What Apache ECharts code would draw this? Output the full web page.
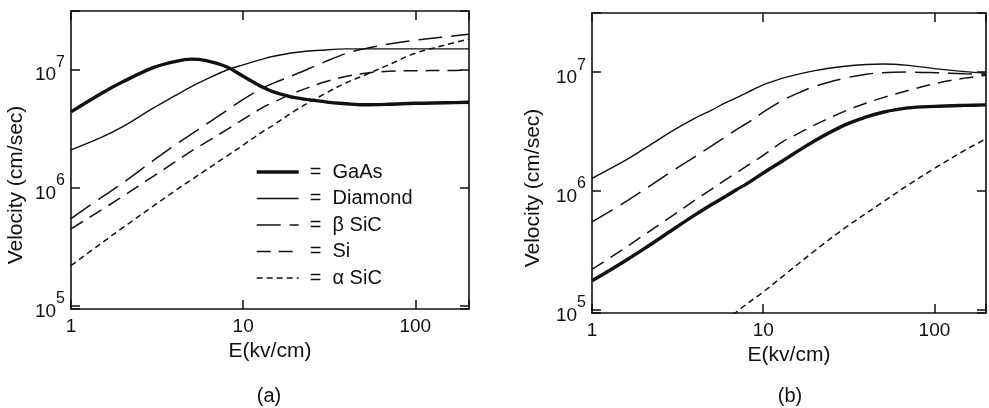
<!DOCTYPE html>
<html><head><meta charset="utf-8">
<script src="https://cdn.jsdelivr.net/npm/echarts@6/dist/echarts.min.js"></script>
<style>html,body{margin:0;padding:0;background:#fff}#c{width:989px;height:408px}</style>
</head><body><div id="c"></div>
<script>
// ---- data ----
const NAMES = ['GaAs', 'Diamond', 'β SiC', 'Si', 'α SiC'];
const X_TICKS = [1, 10, 100];
const Y_TICK_EXPONENTS = [5, 6, 7];

// Chart (a)
const E_A = [1, 1.5, 2, 3, 4, 5, 6, 8, 10, 13, 15, 20, 30, 40, 50, 70, 100, 150, 205];
const GAAS_A    = [4.4e6, 6.3e6, 7.9e6, 1.04e7, 1.17e7, 1.23e7, 1.2e7, 1.06e7, 8.8e6, 7.1e6, 6.5e6, 5.8e6, 5.35e6, 5.15e6, 5.05e6, 5.1e6, 5.2e6, 5.25e6, 5.3e6];
const DIAMOND_A = [2.1e6, 2.68e6, 3.3e6, 4.73e6, 6.0e6, 7.2e6, 8.2e6, 9.9e6, 1.1e7, 1.23e7, 1.3e7, 1.4e7, 1.47e7, 1.5e7, 1.5e7, 1.5e7, 1.5e7, 1.5e7, 1.5e7];
const BSIC_A    = [5.5e5, 8.3e5, 1.1e6, 1.7e6, 2.3e6, 2.85e6, 3.4e6, 4.5e6, 5.6e6, 7.0e6, 7.7e6, 9.1e6, 1.17e7, 1.38e7, 1.5e7, 1.65e7, 1.78e7, 1.9e7, 2.0e7];
const SI_A      = [4.5e5, 6.5e5, 8.5e5, 1.25e6, 1.65e6, 2.05e6, 2.4e6, 3.1e6, 3.8e6, 4.8e6, 5.3e6, 6.4e6, 7.9e6, 8.8e6, 9.3e6, 9.7e6, 9.8e6, 9.85e6, 9.9e6];
const ASIC_A    = [2.2e5, 3.4e5, 4.6e5, 7.0e5, 9.4e5, 1.17e6, 1.4e6, 1.85e6, 2.3e6, 3.0e6, 3.4e6, 4.5e6, 6.3e6, 7.8e6, 8.9e6, 1.1e7, 1.38e7, 1.62e7, 1.82e7];

// Chart (b)
const E_B = [1, 1.5, 2, 3, 4, 5, 6, 7, 8, 10, 13, 15, 20, 30, 40, 50, 70, 100, 150, 200];
const GAAS_B    = [1.76e5, 2.5e5, 3.25e5, 4.8e5, 6.3e5, 7.7e5, 9.0e5, 1.03e6, 1.15e6, 1.42e6, 1.8e6, 2.05e6, 2.65e6, 3.6e6, 4.2e6, 4.6e6, 5.0e6, 5.15e6, 5.25e6, 5.3e6];
const DIAMOND_B = [1.28e6, 1.75e6, 2.25e6, 3.25e6, 4.1e6, 4.8e6, 5.5e6, 6.1e6, 6.7e6, 7.8e6, 8.9e6, 9.4e6, 1.03e7, 1.12e7, 1.16e7, 1.17e7, 1.14e7, 1.07e7, 1.01e7, 9.8e6];
const BSIC_B    = [5.5e5, 7.8e5, 1.02e6, 1.5e6, 1.95e6, 2.4e6, 2.85e6, 3.3e6, 3.7e6, 4.6e6, 5.8e6, 6.4e6, 7.6e6, 8.9e6, 9.6e6, 9.9e6, 1.0e7, 9.9e6, 9.7e6, 9.6e6];
const SI_B      = [2.2e5, 3.2e5, 4.25e5, 6.3e5, 8.4e5, 1.04e6, 1.24e6, 1.43e6, 1.62e6, 2.0e6, 2.6e6, 2.9e6, 3.6e6, 4.7e6, 5.5e6, 6.1e6, 7.0e6, 8.0e6, 8.9e6, 9.4e6];
const E_ASIC_B  = [6, 7.4, 10, 13, 20, 30, 50, 70, 100, 150, 200];
const ASIC_B    = [8.0e4, 1.03e5, 1.42e5, 1.92e5, 3.15e5, 4.9e5, 8.1e5, 1.12e6, 1.55e6, 2.2e6, 2.75e6];

// ---- chart ----
const FONT = "'Liberation Sans', Arial, Helvetica, sans-serif";
const INK = '#111';
const pair = (xs, ys) => xs.map((x, i) => [x, ys[i]]);

const STYLES = {
  'GaAs':    { width: 3.4, type: 'solid' },
  'Diamond': { width: 1.4, type: 'solid' },
  'β SiC':   { width: 1.5, type: [24, 9] },
  'Si':      { width: 1.5, type: [14, 8] },
  'α SiC':   { width: 1.5, type: [6, 4] }
};

function xFmt(v) {
  return X_TICKS.some(t => Math.abs(t - v) / t < 1e-6) ? String(Math.round(v)) : '';
}
function yFmt(v) {
  const e = Math.log10(v), r = Math.round(e);
  if (Math.abs(e - r) > 1e-6 || Y_TICK_EXPONENTS.indexOf(r) < 0) return '';
  return '{b|10}{s|' + r + '}';
}
const lineAx = { show: true, onZero: false, lineStyle: { color: INK, width: 1.6 } };
const tickAx = { show: true, inside: true, length: 9, lineStyle: { color: INK, width: 1.5 } };

function xAxes(gi, xmax) {
  return [
    { type: 'log', logBase: 10, gridIndex: gi, position: 'bottom', min: 1, max: xmax,
      axisLine: lineAx, axisTick: tickAx, splitLine: { show: false }, minorTick: { show: false },
      axisLabel: { formatter: xFmt, fontSize: 19, color: INK, fontFamily: FONT, margin: 8 },
      name: 'E(kv/cm)', nameLocation: 'middle', nameGap: 31,
      nameTextStyle: { fontSize: 21, color: INK, fontFamily: FONT } },
    { type: 'log', logBase: 10, gridIndex: gi, position: 'top', min: 1, max: xmax,
      axisLine: lineAx, axisTick: tickAx, splitLine: { show: false }, axisLabel: { show: false } }
  ];
}
function yAxes(gi, gap) {
  return [
    { type: 'log', logBase: 10, gridIndex: gi, position: 'left', min: 94400, max: 3.14e7,
      axisLine: lineAx, axisTick: tickAx, splitLine: { show: false },
      axisLabel: { formatter: yFmt, color: INK, fontFamily: FONT, margin: 6,
        rich: { b: { fontSize: 19, fontFamily: FONT, color: INK, lineHeight: 30, verticalAlign: 'bottom' },
                s: { fontSize: 16, fontFamily: FONT, color: INK, lineHeight: 18, verticalAlign: 'top' } } },
      name: 'Velocity (cm/sec)', nameLocation: 'middle', nameGap: gap,
      nameTextStyle: { fontSize: 21, color: INK, fontFamily: FONT, padding: [0, 50, 0, 0] } },
    { type: 'log', logBase: 10, gridIndex: gi, position: 'right', min: 94400, max: 3.14e7,
      axisLine: lineAx, axisTick: tickAx, splitLine: { show: false }, axisLabel: { show: false } }
  ];
}

function mk(name, xs, ys, xi, yi) {
  const st = STYLES[name];
  return { name, type: 'line', xAxisIndex: xi, yAxisIndex: yi, data: pair(xs, ys),
    symbol: 'none', smooth: 0.35, clip: true,
    lineStyle: { color: INK, width: st.width, type: st.type }, itemStyle: { color: INK } };
}

const chart = echarts.init(document.getElementById('c'), null, { renderer: 'canvas' });
chart.setOption({
  animation: false,
  backgroundColor: '#fff',
  textStyle: { fontFamily: FONT },
  title: [
    { text: '(a)', left: 269, top: 386, textAlign: 'center', padding: 0,
      textStyle: { fontSize: 20, fontWeight: 'normal', color: INK, fontFamily: FONT } },
    { text: '(b)', left: 790, top: 386, textAlign: 'center', padding: 0,
      textStyle: { fontSize: 20, fontWeight: 'normal', color: INK, fontFamily: FONT } }
  ],
  legend: {
    data: NAMES.map(n => ({ name: n,
      lineStyle: { color: INK, width: STYLES[n].width, type: STYLES[n].type } })),
    orient: 'vertical', left: 255, top: 162, padding: 0,
    itemWidth: 42, itemHeight: 14, itemGap: 6.5, selectedMode: false,
    itemStyle: { opacity: 0, borderWidth: 0 },
    formatter: n => '=  ' + n,
    textStyle: { fontSize: 20, color: INK, fontFamily: FONT, padding: [0, 0, 0, 6] }
  },
  grid: [
    { left: 71, top: 11, width: 398, height: 298 },
    { left: 592, top: 13, width: 396, height: 300 }
  ],
  xAxis: [...xAxes(0, 205), ...xAxes(1, 200)],
  yAxis: [...yAxes(0, 44), ...yAxes(1, 48)],
  series: [
    mk('GaAs', E_A, GAAS_A, 0, 0),
    mk('Diamond', E_A, DIAMOND_A, 0, 0),
    mk('β SiC', E_A, BSIC_A, 0, 0),
    mk('Si', E_A, SI_A, 0, 0),
    mk('α SiC', E_A, ASIC_A, 0, 0),
    mk('GaAs', E_B, GAAS_B, 2, 2),
    mk('Diamond', E_B, DIAMOND_B, 2, 2),
    mk('β SiC', E_B, BSIC_B, 2, 2),
    mk('Si', E_B, SI_B, 2, 2),
    mk('α SiC', E_ASIC_B, ASIC_B, 2, 2)
  ]
});
</script></body></html>
